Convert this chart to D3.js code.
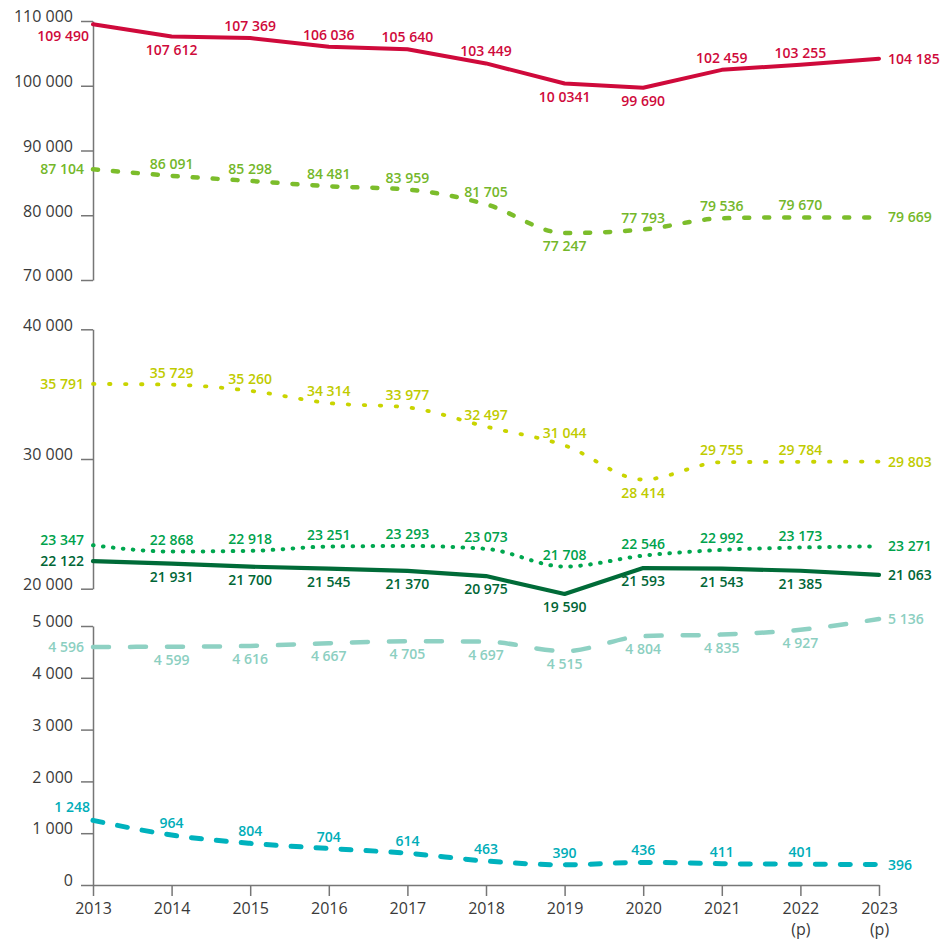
<!DOCTYPE html>
<html><head><meta charset="utf-8">
<script src="https://cdn.jsdelivr.net/npm/d3@7"></script>
<style>body{margin:0;background:#fff} svg{display:block}</style>
</head><body>
<svg id="c" width="951" height="939"></svg>
<script>
// ---------- data ----------
const years = [2013, 2014, 2015, 2016, 2017, 2018, 2019, 2020, 2021, 2022, 2023];
const yearSub = ["", "", "", "", "", "", "", "", "", "(p)", "(p)"];

const topTicks = [70000, 80000, 90000, 100000, 110000];
const midTicks = [20000, 30000, 40000];
const botTicks = [0, 1000, 2000, 3000, 4000, 5000];

const redValues = [109490, 107612, 107369, 106036, 105640, 103449, 100341, 99690, 102459, 103255, 104185];
const redLabels = ["109 490", "107 612", "107 369", "106 036", "105 640", "103 449", "10 0341", "99 690", "102 459", "103 255", "104 185"];
const limeValues = [87104, 86091, 85298, 84481, 83959, 81705, 77247, 77793, 79536, 79670, 79669];
const yellowValues = [35791, 35729, 35260, 34314, 33977, 32497, 31044, 28414, 29755, 29784, 29803];
const greenValues = [23347, 22868, 22918, 23251, 23293, 23073, 21708, 22546, 22992, 23173, 23271];
const darkGreenValues = [22122, 21931, 21700, 21545, 21370, 20975, 19590, 21593, 21543, 21385, 21063];
const mintValues = [4596, 4599, 4616, 4667, 4705, 4697, 4515, 4804, 4835, 4927, 5136];
const tealValues = [1248, 964, 804, 704, 614, 463, 390, 436, 411, 401, 396];

// label placement codes (a = above, b = below, l = left, r = right, lu/la/lb = left shifted)
const redSides = ["lb", "b", "a", "a", "a", "a", "b", "b", "a", "a", "r"];
const limeSides = ["l", "a", "a", "a", "a", "a", "b", "a", "a", "a", "r"];
const yellowSides = ["l", "a", "a", "a", "a", "a", "a", "b", "a", "a", "r"];
const greenSides = ["lu", "a", "a", "a", "a", "a", "a", "a", "a", "a", "r"];
const darkGreenSides = ["l", "b", "b", "b", "b", "b", "b", "b", "b", "b", "r"];
const mintSides = ["l", "b", "b", "b", "b", "b", "b", "b", "b", "b", "r"];
const tealSides = ["la", "a", "a", "a", "a", "a", "a", "a", "a", "a", "r"];

// ---------- layout ----------
const svg = d3.select("#c");
const fontFamily = "'Open Sans', 'DejaVu Sans', sans-serif";
const axisColor = "#767676";
const textColor = "#3a3a3a";

const x = d3.scalePoint().domain(years).range([93, 879]);
const yTop = d3.scaleLinear().domain([70000, 110000]).range([280, 21]);
const yMid = d3.scaleLinear().domain([20000, 40000]).range([588.7, 329.3]);
const yBot = d3.scaleLinear().domain([0, 5000]).range([885, 626]);

const loc = d3.formatLocale({decimal: ",", thousands: "\u00a0", grouping: [3], currency: ["", ""]});
const fmt = loc.format(",d");

// ---------- axes ----------
function leftAxis(scale, ticks) {
  const g = svg.append("g").attr("transform", "translate(93,0)")
    .call(d3.axisLeft(scale).tickValues(ticks).tickSize(12).tickSizeOuter(0).tickPadding(8).tickFormat(fmt));
  g.select(".domain").attr("stroke", axisColor).attr("stroke-width", 1.5);
  g.selectAll(".tick line").attr("stroke", axisColor).attr("stroke-width", 1.5);
  g.selectAll(".tick text").attr("fill", textColor).style("font-family", fontFamily)
    .style("font-size", "16px").attr("y", -5).attr("dy", "0.36em");
  return g;
}
leftAxis(yTop, topTicks);
leftAxis(yMid, midTicks);
leftAxis(yBot, botTicks);

const gx = svg.append("g").attr("transform", "translate(0,885)")
  .call(d3.axisBottom(x).tickSize(11).tickSizeOuter(0).tickPadding(7));
gx.select(".domain").attr("stroke", axisColor).attr("stroke-width", 1.5);
gx.selectAll(".tick line").attr("stroke", axisColor).attr("stroke-width", 1.5);
gx.selectAll(".tick text").attr("fill", textColor).style("font-family", fontFamily).style("font-size", "16px");
gx.selectAll(".tick").each(function(d, i) {
  const sub = yearSub[i];
  if (sub) {
    d3.select(this).append("text")
      .attr("x", 0).attr("y", 50)
      .attr("text-anchor", "middle")
      .attr("fill", textColor)
      .style("font-family", fontFamily).style("font-size", "16px")
      .text(sub);
  }
});

// ---------- series ----------
const series = [
  {values: redValues, labels: redLabels, sides: redSides, y: yTop, color: "#cf0a3b", label: "#cf0a3b", width: 4, dash: null, curve: d3.curveLinear},
  {values: limeValues, sides: limeSides, y: yTop, color: "#7cbd2b", label: "#74b72a", width: 4.5, dash: "5 15", curve: d3.curveMonotoneX},
  {values: yellowValues, sides: yellowSides, y: yMid, color: "#c9d400", label: "#bfcb00", width: 3.8, dash: "1.5 14.5", curve: d3.curveMonotoneX},
  {values: greenValues, sides: greenSides, y: yMid, color: "#00a74f", label: "#00a24c", width: 4, dash: "0.6 9.4", curve: d3.curveMonotoneX},
  {values: darkGreenValues, sides: darkGreenSides, y: yMid, color: "#006b38", label: "#006636", width: 4.2, dash: null, curve: d3.curveLinear},
  {values: mintValues, sides: mintSides, y: yBot, color: "#8ed1c3", label: "#8ccfc1", width: 4.5, dash: "16 21", curve: d3.curveMonotoneX},
  {values: tealValues, sides: tealSides, y: yBot, color: "#00b2bd", label: "#00adb8", width: 5, dash: "10 15", curve: d3.curveMonotoneX}
];

series.forEach(s => {
  const line = d3.line().x((d, i) => x(years[i])).y(d => s.y(d)).curve(s.curve);
  svg.append("path").datum(s.values)
    .attr("d", line)
    .attr("fill", "none")
    .attr("stroke", s.color)
    .attr("stroke-width", s.width)
    .attr("stroke-linecap", "round")
    .attr("stroke-linejoin", "round")
    .attr("stroke-dasharray", s.dash);
});

series.forEach(s => {
  const g = svg.append("g");
  s.values.forEach((v, i) => {
    const px = x(years[i]);
    const py = s.y(v);
    const side = s.sides[i];
    let tx = px, ty = py, anchor = "middle";
    if (side === "a") { ty = py - 12; }
    else if (side === "b") { ty = py + 13; }
    else if (side === "l") { tx = px - 9; anchor = "end"; }
    else if (side === "lu") { tx = px - 9; ty = py - 5; anchor = "end"; }
    else if (side === "lb") { tx = px - 4; ty = py + 12; anchor = "end"; }
    else if (side === "la") { tx = px - 3; ty = py - 13; anchor = "end"; }
    else if (side === "r") { tx = px + 9; anchor = "start"; }
    g.append("text")
      .attr("x", tx).attr("y", ty).attr("dy", "0.36em")
      .attr("text-anchor", anchor)
      .attr("fill", s.label)
      .style("font-family", fontFamily)
      .style("font-size", "14px")
      .style("font-weight", 600)
      .text(s.labels ? s.labels[i] : fmt(v));
  });
});
</script>
</body></html>
